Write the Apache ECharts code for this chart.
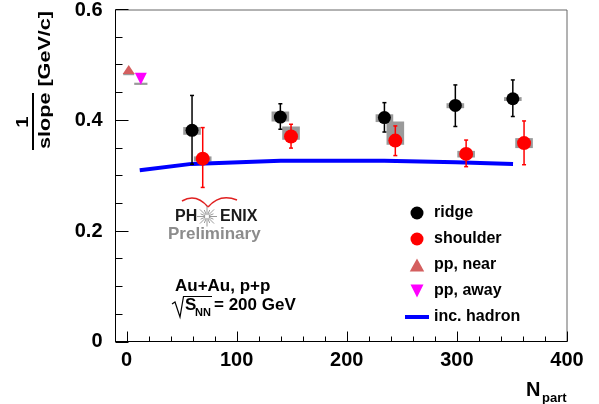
<!DOCTYPE html>
<html><head><meta charset="utf-8">
<script src="https://cdn.jsdelivr.net/npm/echarts@6/dist/echarts.min.js"></script>
<style>html,body{margin:0;padding:0;background:#fff}#c{width:599px;height:404px}</style>
</head><body><div id="c"></div>
<script>
// ---- data ----
const ridgeX = [59.5, 139.7, 234.2, 298.6, 350.8];
const ridgeY = [0.381, 0.405, 0.404, 0.426, 0.438];
const ridgeErrLo = [0.320, 0.383, 0.378, 0.388, 0.406];
const ridgeErrHi = [0.444, 0.429, 0.431, 0.463, 0.472];
const ridgeSysLo = [0.373, 0.397, 0.396, 0.421, 0.434];
const ridgeSysHi = [0.387, 0.415, 0.410, 0.430, 0.441];

const shoulderX = [69.2, 149.4, 244.1, 308.4, 361.0];
const shoulderY = [0.330, 0.370, 0.3625, 0.3385, 0.358];
const shoulderErrLo = [0.278, 0.349, 0.3355, 0.3155, 0.319];
const shoulderErrHi = [0.386, 0.392, 0.389, 0.3635, 0.398];
const shoulderSysLo = [0.325, 0.364, 0.355, 0.332, 0.349];
const shoulderSysHi = [0.334, 0.388, 0.397, 0.344, 0.367];

const ppNearX = [2];
const ppNearY = [0.4825];
const ppAwayX = [13];
const ppAwayY = [0.465];

const hadronX = [12, 59, 140, 234, 299, 351];
const hadronY = [0.309, 0.3205, 0.326, 0.326, 0.3235, 0.3205];

// axis ticks
const xTickMajor = [0, 100, 200, 300, 400];
const xTickMinor = [20, 40, 60, 80, 120, 140, 160, 180, 220, 240, 260, 280, 320, 340, 360, 380];
const yTickMajor = [0, 0.2, 0.4, 0.6];
const yTickMinor = [0.05, 0.1, 0.15, 0.25, 0.3, 0.35, 0.45, 0.5, 0.55];

const xMin = -10, xMax = 400, xInterval = 100;
const yMin = 0, yMax = 0.6, yInterval = 0.2;

// ---- layout ----
const FONT = '"Liberation Sans", Arial, Helvetica, sans-serif';
const gLeft = 115.5, gRight = 567, gTop = 9, gBottom = 341.5;
const ppu = (gRight - gLeft) / (xMax - xMin);
const boxHalfW = 8;

function pairs(xs, ys) { return xs.map((x, i) => [x, ys[i]]); }

function errSeries(xs, lo, hi, color) {
  return {
    type: 'custom', xAxisIndex: 1, yAxisIndex: 1, z: 3, silent: true,
    data: xs.map((x, i) => [x, lo[i], hi[i]]),
    renderItem: (params, api) => {
      const a = api.coord([api.value(0), api.value(2)]);
      const b = api.coord([api.value(0), api.value(1)]);
      const cap = 2;
      const st = { stroke: color, lineWidth: 1.5 };
      return { type: 'group', children: [
        { type: 'line', shape: { x1: a[0], y1: a[1], x2: b[0], y2: b[1] }, style: st },
        { type: 'line', shape: { x1: a[0] - cap, y1: a[1], x2: a[0] + cap, y2: a[1] }, style: st },
        { type: 'line', shape: { x1: b[0] - cap, y1: b[1], x2: b[0] + cap, y2: b[1] }, style: st }
      ]};
    }
  };
}
function sysSeries(xs, lo, hi, hw) {
  return {
    type: 'custom', xAxisIndex: 1, yAxisIndex: 1, z: 1, silent: true,
    data: xs.map((x, i) => [x, lo[i], hi[i]]),
    renderItem: (params, api) => {
      const a = api.coord([api.value(0) - hw, api.value(2)]);
      const b = api.coord([api.value(0) + hw, api.value(1)]);
      return { type: 'rect', shape: { x: a[0], y: a[1], width: b[0] - a[0], height: Math.max(2, b[1] - a[1]) },
        style: { fill: '#9a9a9a' } };
    }
  };
}
// x ticks: value, y ticks: value; both drawn through the axes' coordinate mapping
function xTickSeries(vals, len) {
  return {
    type: 'custom', xAxisIndex: 1, yAxisIndex: 1, z: 8, silent: true,
    data: vals.map(v => [v, 0.3]),
    renderItem: (params, api) => {
      const p = api.coord([api.value(0), yMin]);
      const x = Math.round(p[0]) + 0.5;
      return { type: 'line', shape: { x1: x, y1: p[1], x2: x, y2: p[1] - len },
        style: { stroke: '#000', lineWidth: 1 } };
    }
  };
}
function yTickSeries(vals, len) {
  return {
    type: 'custom', xAxisIndex: 1, yAxisIndex: 1, z: 8, silent: true,
    data: vals.map(v => [200, v]),
    renderItem: (params, api) => {
      const p = api.coord([0, api.value(1)]);
      const x0 = p[0] + xMin * ppu;
      const y = Math.round(p[1]) + 0.5;
      return { type: 'line', shape: { x1: x0, y1: y, x2: x0 + len, y2: y },
        style: { stroke: '#000', lineWidth: 1 } };
    }
  };
}

// decorations
const graphics = [];
graphics.push({ type: 'text', x: 46, y: 80, rotation: Math.PI / 2, scaleX: 1.35, z: 10,
  style: { text: 'slope [GeV/c]', font: 'bold 16px ' + FONT, fill: '#000', align: 'center', verticalAlign: 'middle' } });
graphics.push({ type: 'text', x: 23, y: 122, rotation: Math.PI / 2, scaleX: 1.2, z: 10,
  style: { text: '1', font: 'bold 17px ' + FONT, fill: '#000', align: 'center', verticalAlign: 'middle' } });
graphics.push({ type: 'line', z: 10, shape: { x1: 33, y1: 93, x2: 33, y2: 150 }, style: { stroke: '#000', lineWidth: 2 } });
graphics.push({ type: 'text', x: 526, y: 390, z: 10,
  style: { text: 'N', font: 'bold 20px ' + FONT, fill: '#000', align: 'left', verticalAlign: 'middle' } });
graphics.push({ type: 'text', x: 542, y: 398, z: 10,
  style: { text: 'part', font: 'bold 13px ' + FONT, fill: '#000', align: 'left', verticalAlign: 'middle' } });
graphics.push({ type: 'bezierCurve', z: 10, shape: { x1: 182, y1: 201, x2: 208, y2: 207, cpx1: 196, cpy1: 193 },
  style: { stroke: '#e02020', lineWidth: 1.5, fill: null } });
graphics.push({ type: 'bezierCurve', z: 10, shape: { x1: 208, y1: 207, x2: 237, y2: 200, cpx1: 220, cpy1: 193 },
  style: { stroke: '#e02020', lineWidth: 1.5, fill: null } });
graphics.push({ type: 'text', x: 175, y: 217, z: 10,
  style: { text: 'PH', font: 'bold 16px ' + FONT, fill: '#1a1a1a', align: 'left', verticalAlign: 'middle' } });
graphics.push({ type: 'text', x: 220, y: 217, z: 10,
  style: { text: 'ENIX', font: 'bold 16px ' + FONT, fill: '#1a1a1a', align: 'left', verticalAlign: 'middle' } });
for (let k = 0; k < 16; k++) {
  const ang = k * Math.PI / 8, r1 = 2, r2 = (k % 2 ? 7 : 10);
  graphics.push({ type: 'line', z: 10, shape: { x1: 207 + r1 * Math.cos(ang), y1: 216.5 + r1 * Math.sin(ang),
    x2: 207 + r2 * Math.cos(ang), y2: 216.5 + r2 * Math.sin(ang) }, style: { stroke: '#9a9a9a', lineWidth: 1 } });
}
graphics.push({ type: 'text', x: 168, y: 234, z: 10,
  style: { text: 'Preliminary', font: 'bold 17px ' + FONT, fill: '#8c8c8c', align: 'left', verticalAlign: 'middle' } });
graphics.push({ type: 'text', x: 175, y: 286, z: 10,
  style: { text: 'Au+Au, p+p', font: 'bold 17px ' + FONT, fill: '#000', align: 'left', verticalAlign: 'middle' } });
graphics.push({ type: 'polyline', z: 10, shape: { points: [[172, 304], [175, 302], [180, 317], [183.5, 296.5], [212, 296.5]] },
  style: { stroke: '#000', lineWidth: 1.2, fill: null } });
graphics.push({ type: 'text', x: 185, y: 305, z: 10,
  style: { text: 'S', font: 'bold 17px ' + FONT, fill: '#000', align: 'left', verticalAlign: 'middle' } });
graphics.push({ type: 'text', x: 195, y: 313, z: 10,
  style: { text: 'NN', font: 'bold 11px ' + FONT, fill: '#000', align: 'left', verticalAlign: 'middle' } });
graphics.push({ type: 'text', x: 214, y: 305, z: 10,
  style: { text: '= 200 GeV', font: 'bold 17px ' + FONT, fill: '#000', align: 'left', verticalAlign: 'middle' } });

const chart = echarts.init(document.getElementById('c'));
chart.setOption({
  animation: false,
  grid: [
    { left: gLeft, top: gTop, width: gRight - gLeft, height: gBottom - gTop, show: true,
      borderColor: '#666', borderWidth: 1, backgroundColor: 'transparent' },
    { left: gLeft - xMin * ppu, top: gTop, width: xMax * ppu, height: gBottom - gTop }
  ],
  xAxis: [
    { gridIndex: 0, type: 'value', min: xMin, max: xMax, axisLine: { show: true, onZero: false, lineStyle: { color: '#000', width: 1 } },
      axisTick: { show: false }, axisLabel: { show: false }, splitLine: { show: false } },
    { gridIndex: 1, type: 'value', min: 0, max: xMax, interval: xInterval,
      axisLine: { show: false, onZero: false },
      axisTick: { show: false }, minorTick: { show: false },
      axisLabel: { fontSize: 20, fontWeight: 'bold', color: '#000', margin: 9, fontFamily: FONT },
      splitLine: { show: false }, minorSplitLine: { show: false } }
  ],
  yAxis: [
    { gridIndex: 0, type: 'value', min: yMin, max: yMax, interval: yInterval,
      axisLine: { show: true, onZero: false, lineStyle: { color: '#000', width: 1 } },
      axisTick: { show: false }, minorTick: { show: false },
      axisLabel: { fontSize: 20, fontWeight: 'bold', color: '#000', margin: 13, fontFamily: FONT, padding: [4, 0, 0, 0],
        formatter: v => (v === 0 ? '0' : v.toFixed(1)) },
      splitLine: { show: false }, minorSplitLine: { show: false } },
    { gridIndex: 1, type: 'value', min: yMin, max: yMax, show: false, splitLine: { show: false } }
  ],
  legend: {
    orient: 'vertical', left: 405, top: 205, padding: 0, itemWidth: 24, itemHeight: 13, itemGap: 10,
    selectedMode: false,
    textStyle: { fontSize: 16, fontWeight: 'bold', color: '#000', fontFamily: FONT, lineHeight: 13 },
    data: [
      { name: 'ridge', icon: 'circle' },
      { name: 'shoulder', icon: 'circle' },
      { name: 'pp, near', icon: 'path://M5,0 L10,9 L0,9 Z' },
      { name: 'pp, away', icon: 'path://M0,0 L10,0 L5,10 Z' },
      { name: 'inc. hadron', icon: 'path://M0,0 H24 V4 H0 Z' }
    ]
  },
  graphic: graphics,
  series: [
    sysSeries(ridgeX, ridgeSysLo, ridgeSysHi, boxHalfW),
    sysSeries(shoulderX, shoulderSysLo, shoulderSysHi, boxHalfW),
    sysSeries(ppNearX, ppNearY.map(v => v - 0.002), ppNearY.map(v => v + 0.002), 5),
    sysSeries(ppAwayX, ppAwayY.map(v => v - 0.002), ppAwayY.map(v => v + 0.002), 6),
    { name: 'inc. hadron', type: 'line', xAxisIndex: 1, yAxisIndex: 1, z: 2, symbol: 'none', silent: true,
      data: pairs(hadronX, hadronY), lineStyle: { color: '#0000ff', width: 4 }, itemStyle: { color: '#0000ff' } },
    errSeries(ridgeX, ridgeErrLo, ridgeErrHi, '#000'),
    errSeries(shoulderX, shoulderErrLo, shoulderErrHi, '#ff0000'),
    { name: 'ridge', type: 'scatter', xAxisIndex: 1, yAxisIndex: 1, z: 4, symbol: 'circle', symbolSize: 13,
      data: pairs(ridgeX, ridgeY), itemStyle: { color: '#000', opacity: 1 } },
    { name: 'shoulder', type: 'scatter', xAxisIndex: 1, yAxisIndex: 1, z: 4, symbol: 'circle', symbolSize: 14,
      data: pairs(shoulderX, shoulderY), itemStyle: { color: '#ff0000', opacity: 1 } },
    { name: 'pp, near', type: 'scatter', xAxisIndex: 1, yAxisIndex: 1, z: 4, symbol: 'path://M5,0 L10,9 L0,9 Z',
      symbolKeepAspect: false, symbolSize: [12, 9], symbolOffset: [0, -4.5],
      data: pairs(ppNearX, ppNearY), itemStyle: { color: '#d45f5f', opacity: 1 } },
    { name: 'pp, away', type: 'scatter', xAxisIndex: 1, yAxisIndex: 1, z: 4, symbol: 'path://M0,0 L10,0 L5,10 Z',
      symbolKeepAspect: false, symbolSize: [12, 12], symbolOffset: [0, -5],
      data: pairs(ppAwayX, ppAwayY), itemStyle: { color: '#ff00ff', opacity: 1 } },
    xTickSeries(xTickMajor, 10),
    xTickSeries(xTickMinor, 5),
    yTickSeries(yTickMajor, 13),
    yTickSeries(yTickMinor, 7)
  ]
});
</script></body></html>
